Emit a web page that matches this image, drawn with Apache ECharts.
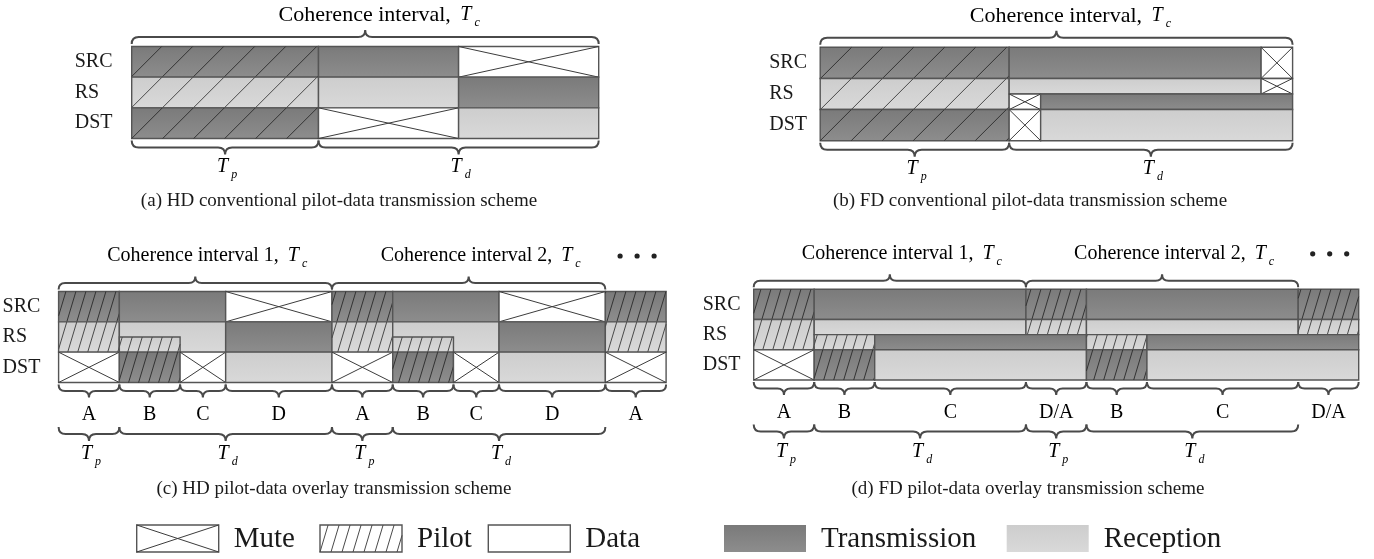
<!DOCTYPE html>
<html><head><meta charset="utf-8">
<script src="https://cdn.jsdelivr.net/npm/echarts@6/dist/echarts.min.js"></script>
<style>html,body{margin:0;padding:0;background:#fff}#c{width:1374px;height:559px}</style>
</head><body><div id="c"></div>
<script>
// ---------------- DATA ----------------
const rowNames = ['SRC', 'RS', 'DST'];
// segments: [start, end, topHalfRow, bottomHalfRow, kind]
// kind: TP = transmission+pilot, RP = reception+pilot, T = transmission, R = reception, M = mute
const segA = [
  [0, 12, 0, 2, 'TP'], [12, 21, 0, 2, 'T'], [21, 30, 0, 2, 'M'],
  [0, 12, 2, 4, 'RP'], [12, 21, 2, 4, 'R'], [21, 30, 2, 4, 'T'],
  [0, 12, 4, 6, 'TP'], [12, 21, 4, 6, 'M'], [21, 30, 4, 6, 'R']
];
const segB = [
  [0, 12, 0, 2, 'TP'], [12, 28, 0, 2, 'T'], [28, 30, 0, 2, 'M'],
  [0, 12, 2, 4, 'RP'], [12, 28, 2, 3, 'R'], [28, 30, 2, 3, 'M'],
  [12, 14, 3, 4, 'M'], [14, 30, 3, 4, 'T'],
  [0, 12, 4, 6, 'TP'], [12, 14, 4, 6, 'M'], [14, 30, 4, 6, 'R']
];
const segC = [
  [0, 4, 0, 2, 'TP'], [4, 11, 0, 2, 'T'], [11, 18, 0, 2, 'M'],
  [18, 22, 0, 2, 'TP'], [22, 29, 0, 2, 'T'], [29, 36, 0, 2, 'M'], [36, 40, 0, 2, 'TP'],
  [0, 4, 2, 4, 'RP'], [4, 11, 2, 4, 'R'], [4, 8, 3, 4, 'RP'], [11, 18, 2, 4, 'T'],
  [18, 22, 2, 4, 'RP'], [22, 29, 2, 4, 'R'], [22, 26, 3, 4, 'RP'], [29, 36, 2, 4, 'T'], [36, 40, 2, 4, 'RP'],
  [0, 4, 4, 6, 'M'], [4, 8, 4, 6, 'TP'], [8, 11, 4, 6, 'M'], [11, 18, 4, 6, 'R'],
  [18, 22, 4, 6, 'M'], [22, 26, 4, 6, 'TP'], [26, 29, 4, 6, 'M'], [29, 36, 4, 6, 'R'], [36, 40, 4, 6, 'M']
];
const segD = [
  [0, 4, 0, 2, 'TP'], [4, 18, 0, 2, 'T'], [18, 22, 0, 2, 'TP'], [22, 36, 0, 2, 'T'], [36, 40, 0, 2, 'TP'],
  [0, 4, 2, 4, 'RP'], [4, 18, 2, 3, 'R'], [18, 22, 2, 3, 'RP'], [22, 36, 2, 3, 'R'], [36, 40, 2, 3, 'RP'],
  [4, 8, 3, 4, 'RP'], [8, 22, 3, 4, 'T'], [22, 26, 3, 4, 'RP'], [26, 40, 3, 4, 'T'],
  [0, 4, 4, 6, 'M'], [4, 8, 4, 6, 'TP'], [8, 22, 4, 6, 'R'], [22, 26, 4, 6, 'TP'], [26, 40, 4, 6, 'R']
];

const topSpansAB = [[0, 30]];
const topTitlesAB = ['Coherence interval, '];
const lowSpansAB = [[0, 12], [12, 30]];
const lowSubsAB = ['p', 'd'];

const topSpansCD = [[0, 18], [18, 36]];
const topTitlesCD = ['Coherence interval 1, ', 'Coherence interval 2, '];
const colSpansC = [[0, 4], [4, 8], [8, 11], [11, 18], [18, 22], [22, 26], [26, 29], [29, 36], [36, 40]];
const colLabelsC = ['A', 'B', 'C', 'D', 'A', 'B', 'C', 'D', 'A'];
const colSpansD = [[0, 4], [4, 8], [8, 18], [18, 22], [22, 26], [26, 36], [36, 40]];
const colLabelsD = ['A', 'B', 'C', 'D/A', 'B', 'C', 'D/A'];
const phaseSpansCD = [[0, 4], [4, 18], [18, 22], [22, 36]];
const phaseSubsCD = ['p', 'd', 'p', 'd'];

const captions = [
  '(a) HD conventional pilot-data transmission scheme',
  '(b) FD conventional pilot-data transmission scheme',
  '(c) HD pilot-data overlay transmission scheme',
  '(d) FD pilot-data overlay transmission scheme'
];
const legendNames = ['Mute', 'Pilot', 'Data', 'Transmission', 'Reception'];
const legendKinds = ['M', 'P', 'D', 'T', 'R'];

// ---------------- STYLE / LAYOUT ----------------
const FONT = "'Liberation Serif', 'Times New Roman', serif";
const TXT = '#1a1a1a';
const BORDER = '#555555';
const BRACE = '#4a4a4a';
function darkFill() {
  return { type: 'linear', x: 0, y: 0, x2: 0, y2: 1,
    colorStops: [{ offset: 0, color: '#7a7a7a' }, { offset: 1, color: '#8d8d8d' }] };
}
function lightFill() {
  return { type: 'linear', x: 0, y: 0, x2: 0, y2: 1,
    colorStops: [{ offset: 0, color: '#cdcdcd' }, { offset: 1, color: '#d9d9d9' }] };
}
const panels = [
  { seg: segA, xmax: 30, labelMargin: 57, grid: { left: 131.7, top: 46.5, width: 467, height: 92 }, hatch: { sp: 31, k: 1.0 } },
  { seg: segB, xmax: 30, labelMargin: 51, grid: { left: 820.2, top: 47.3, width: 472.4, height: 93.4 }, hatch: { sp: 31, k: 1.0 } },
  { seg: segC, xmax: 40, labelMargin: 56, grid: { left: 58.6, top: 291.5, width: 607.5, height: 91 }, hatch: { sp: 10, k: 0.3 } },
  { seg: segD, xmax: 40, labelMargin: 51, grid: { left: 753.7, top: 289.3, width: 605, height: 90.7 }, hatch: { sp: 10, k: 0.3 } }
];

function hatchLines(rx0, ry0, rx1, ry1, baseX, baseY, sp, k, color) {
  const out = [];
  const h = ry1 - ry0;
  const off = baseX + k * (baseY - ry1);
  const nStart = Math.floor((rx0 - k * h - off) / sp) - 1;
  const nEnd = Math.ceil((rx1 - off) / sp) + 1;
  for (let n = nStart; n <= nEnd; n++) {
    const xb = off + n * sp;
    const xt = xb + k * h;
    if (xt <= rx0 || xb >= rx1) continue;
    let x1 = xb, y1 = ry1, x2 = xt, y2 = ry0;
    if (x1 < rx0) { y1 = ry1 - (rx0 - xb) / k; x1 = rx0; }
    if (x2 > rx1) { y2 = ry1 - (rx1 - xb) / k; x2 = rx1; }
    out.push({ type: 'line', shape: { x1, y1, x2, y2 }, style: { stroke: color, lineWidth: 1 }, silent: true });
  }
  return out;
}

function cellChildren(kind, x0, y0, x1, y1, baseX, baseY, hatch) {
  const ch = [];
  let fill = '#ffffff';
  if (kind === 'T' || kind === 'TP') fill = darkFill();
  if (kind === 'R' || kind === 'RP') fill = lightFill();
  ch.push({ type: 'rect', shape: { x: x0, y: y0, width: x1 - x0, height: y1 - y0 },
    style: { fill, stroke: BORDER, lineWidth: 1.4 } });
  if (kind === 'M') {
    ch.push({ type: 'line', shape: { x1: x0, y1: y0, x2: x1, y2: y1 }, style: { stroke: '#3c3c3c', lineWidth: 1 } });
    ch.push({ type: 'line', shape: { x1: x0, y1: y1, x2: x1, y2: y0 }, style: { stroke: '#3c3c3c', lineWidth: 1 } });
  }
  if (kind === 'TP' || kind === 'RP' || kind === 'P') {
    const col = kind === 'TP' ? '#333333' : '#4a4a4a';
    hatchLines(x0, y0, x1, y1, baseX, baseY, hatch.sp, hatch.k, col).forEach(l => ch.push(l));
  }
  return ch;
}

function blockRender(segs, hatch) {
  return function (params, api) {
    const s = segs[params.dataIndex];
    const p0 = api.coord([s[0], s[2]]);
    const p1 = api.coord([s[1], s[3]]);
    const base = api.coord([0, 6]);
    return { type: 'group', children: cellChildren(s[4], p0[0], p0[1], p1[0], p1[1], base[0], base[1], hatch) };
  };
}

function richFor(size) {
  return {
    n: { fontSize: size, fontFamily: FONT, color: TXT },
    t: { fontSize: 20, fontFamily: FONT, fontStyle: 'italic', color: TXT, padding: [0, 0, 0, 4] },
    s: { fontSize: 12, fontFamily: FONT, fontStyle: 'italic', color: TXT, padding: [16, 0, 0, 3] }
  };
}

function braceRender(spans, labels, cfg) {
  return function (params, api) {
    const i = params.dataIndex;
    const s = spans[i];
    const top = cfg.side === 'top';
    const yEdge = api.coord([0, top ? 0 : 6])[1];
    const dir = top ? -1 : 1;
    const xa = api.coord([s[0], 0])[0], xb = api.coord([s[1], 0])[0];
    const r = cfg.r;
    const yb = yEdge + dir * cfg.gap, ym = yb + dir * r, yt = ym + dir * r;
    const xc = (xa + xb) / 2;
    const d = 'M' + xa + ',' + yb + ' Q' + xa + ',' + ym + ' ' + (xa + r) + ',' + ym +
      ' L' + (xc - r) + ',' + ym + ' Q' + xc + ',' + ym + ' ' + xc + ',' + yt +
      ' Q' + xc + ',' + ym + ' ' + (xc + r) + ',' + ym + ' L' + (xb - r) + ',' + ym +
      ' Q' + xb + ',' + ym + ' ' + xb + ',' + yb;
    const children = [{ type: 'path', shape: { pathData: d }, style: { fill: 'none', stroke: BRACE, lineWidth: 2 } }];
    const ty = yEdge + dir * cfg.textOff;
    let text;
    if (cfg.mode === 'title') text = '{n|' + labels[i] + '}{t|T}{s|c}';
    else if (cfg.mode === 'T') text = '{t|T}{s|' + labels[i] + '}';
    else text = '{n|' + labels[i] + '}';
    children.push({ type: 'text', x: xc + (cfg.textDx || 0), y: ty,
      style: { text, align: 'center', verticalAlign: 'middle', rich: richFor(cfg.fontSize || 20) } });
    if (cfg.dots && i === spans.length - 1) {
      const xr = api.coord([cfg.xmax, 0])[0];
      cfg.dots.forEach(dx => children.push({ type: 'circle', shape: { cx: xr + dx, cy: ty, r: 2.6 }, style: { fill: '#222' } }));
    }
    return { type: 'group', children };
  };
}

// ---------------- OPTION ----------------
const grid = [], xAxis = [], yAxis = [], series = [];
const dotOffsets = [null, null, [-46, -29, -12], [-46, -29, -12]];
panels.forEach((p, gi) => {
  grid.push(Object.assign({ outerBoundsMode: 'none', containLabel: false }, p.grid));
  xAxis.push({ type: 'value', gridIndex: gi, min: 0, max: p.xmax, show: false });
  yAxis.push({ type: 'value', gridIndex: gi, min: 0, max: 6, inverse: true, show: false, position: 'right' });
  yAxis.push({ type: 'category', gridIndex: gi, data: rowNames, inverse: true, position: 'left', offset: 0,
    axisLine: { show: false }, axisTick: { show: false }, splitLine: { show: false },
    axisLabel: { align: 'left', margin: p.labelMargin, fontSize: 20, fontFamily: FONT, color: TXT } });
  const yi = gi * 2;
  series.push({ type: 'custom', xAxisIndex: gi, yAxisIndex: yi, clip: false, silent: true,
    renderItem: blockRender(p.seg, p.hatch),
    data: p.seg.map(s => [s[0], s[1], s[2], s[3]]), encode: { x: [0, 1], y: [2, 3] } });
  const spanData = sp => sp.map(s => [s[0], s[1], 0]);
  if (gi < 2) {
    series.push({ type: 'custom', xAxisIndex: gi, yAxisIndex: yi, clip: false, silent: true,
      renderItem: braceRender(topSpansAB, topTitlesAB, { side: 'top', gap: 2.5, r: 7, textOff: 31.5, mode: 'title', textDx: 14, fontSize: 22 }),
      data: spanData(topSpansAB), encode: { x: [0, 1], y: 2 } });
    series.push({ type: 'custom', xAxisIndex: gi, yAxisIndex: yi, clip: false, silent: true,
      renderItem: braceRender(lowSpansAB, lowSubsAB, { side: 'bottom', gap: 2, r: 7, textOff: 28.5, mode: 'T' }),
      data: spanData(lowSpansAB), encode: { x: [0, 1], y: 2 } });
  } else {
    const cs = gi === 2 ? colSpansC : colSpansD, cl = gi === 2 ? colLabelsC : colLabelsD;
    series.push({ type: 'custom', xAxisIndex: gi, yAxisIndex: yi, clip: false, silent: true,
      renderItem: braceRender(topSpansCD, topTitlesCD, { side: 'top', gap: 2, r: 6.5, textOff: 35.5, mode: 'title', textDx: 12, dots: dotOffsets[gi], xmax: p.xmax }),
      data: spanData(topSpansCD), encode: { x: [0, 1], y: 2 } });
    series.push({ type: 'custom', xAxisIndex: gi, yAxisIndex: yi, clip: false, silent: true,
      renderItem: braceRender(cs, cl, { side: 'bottom', gap: 2, r: 6.5, textOff: 32.5, mode: 'plain' }),
      data: spanData(cs), encode: { x: [0, 1], y: 2 } });
    series.push({ type: 'custom', xAxisIndex: gi, yAxisIndex: yi, clip: false, silent: true,
      renderItem: braceRender(phaseSpansCD, phaseSubsCD, { side: 'bottom', gap: 44.5, r: 7, textOff: 71.5, mode: 'T' }),
      data: spanData(phaseSpansCD), encode: { x: [0, 1], y: 2 } });
  }
});

const captionPos = [[339, 192], [1030, 192], [334, 480], [1028, 480]];
const title = captions.map((c, i) => ({
  text: c, left: captionPos[i][0], top: captionPos[i][1], textAlign: 'center', padding: 0,
  textStyle: { fontSize: 19, fontWeight: 'normal', fontFamily: FONT, color: TXT }
}));

const legendBoxX = [136.7, 320, 488.3, 724, 1006.7];
const LBW = 82, LBH = 27, LBY = 525;
const graphic = [];
legendKinds.forEach((k, i) => {
  const x0 = legendBoxX[i];
  const ch = cellChildren(k, x0, LBY, x0 + LBW, LBY + LBH, x0, LBY + LBH, { sp: 11, k: 0.3 });
  if (k === 'T' || k === 'R') ch[0].style.stroke = 'none';
  ch.forEach(c => graphic.push(c));
  graphic.push({ type: 'text', x: x0 + LBW + 15, y: LBY + LBH / 2 + 1,
    style: { text: legendNames[i], fontSize: 29, fontFamily: FONT, fill: TXT, align: 'left', verticalAlign: 'middle' } });
});

const chart = echarts.init(document.getElementById('c'), null, { renderer: 'canvas' });
chart.setOption({ animation: false, backgroundColor: '#ffffff', title, grid, xAxis, yAxis, series, graphic });
</script></body></html>
